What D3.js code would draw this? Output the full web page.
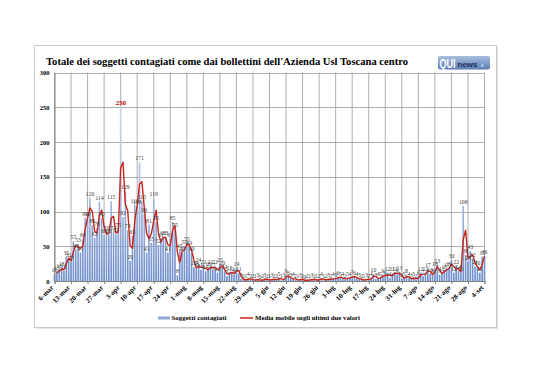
<!DOCTYPE html>
<html><head><meta charset="utf-8">
<script src="https://cdn.jsdelivr.net/npm/d3@7"></script>
<style>
html,body{margin:0;padding:0;background:#fff;}
svg{display:block;}
</style></head><body>
<svg id="c" width="538" height="380"></svg>
<script>
// ---- data ----
const title = "Totale dei soggetti contagiati come dai bollettini dell'Azienda Usl Toscana centro";
const startDate = new Date(2020, 2, 6);
const values = [
10,13,16,18,15,35,31,
27,57,45,53,41,60,91,
90,120,80,62,76,114,90,
66,70,66,115,71,67,75,
250,92,129,73,29,65,110,
108,171,115,96,41,81,55,
119,85,52,61,63,63,41,
61,85,75,8,45,40,50,
55,49,40,20,18,24,16,
22,14,18,21,17,21,12,
25,20,14,7,13,12,9,
19,11,3,2,1,4,2,
2,1,3,0,2,3,2,
1,3,2,2,5,1,3,
9,6,3,4,2,1,3,
2,0,2,1,3,2,1,
2,4,1,2,3,2,4,
3,6,5,4,2,5,4,
7,6,4,3,2,1,3,
2,4,10,3,4,5,9,
6,12,4,11,12,9,13,
3,5,8,4,3,5,2,
6,12,7,12,17,10,8,
18,23,9,12,15,17,19,
30,12,22,14,12,108,38,
28,43,32,21,20,12,35,
36
];
const tickLabels = ["6-mar","13-mar","20-mar","27-mar","3-apr","10-apr","17-apr","24-apr","1-mag","8-mag","15-mag","22-mag","29-mag","5-giu","12-giu","19-giu","26-giu","3-lug","10-lug","17-lug","24-lug","31-lug","7-ago","14-ago","21-ago","28-ago","4-set"];
const tickEvery = 7;
const yTicks = [0,50,100,150,200,250,300];
const seriesNames = ["Soggetti contagiati","Media mobile sugli ultimi due valori"];

// ---- derived ----
const categories = values.map((v,i)=>d3.timeDay.offset(startDate,i));
const movingAvg = values.map((v,i)=> i===0 ? null : (values[i-1]+v)/2);

const svg = d3.select("#c");
const serif = "'Liberation Serif','DejaVu Serif',serif";

// frame
svg.append("rect").attr("x",36).attr("y",47).attr("width",462).attr("height",282).attr("fill","#e6e6e6");
svg.append("rect").attr("x",34.5).attr("y",45.5).attr("width",462).attr("height",282)
  .attr("fill","#fff").attr("stroke","#c9c9c9").attr("stroke-width",1);

// title
svg.append("text").attr("x",46).attr("y",65).text(title)
  .attr("font-family",serif).attr("font-weight","bold").attr("font-size",9.8)
  .attr("textLength",362).attr("lengthAdjust","spacingAndGlyphs").attr("fill","#000");

// logo
const defs = svg.append("defs");
const lg = defs.append("linearGradient").attr("id","logoG").attr("x1",0).attr("y1",0).attr("x2",0).attr("y2",1);
lg.append("stop").attr("offset","0%").attr("stop-color","#a9bfdf");
lg.append("stop").attr("offset","100%").attr("stop-color","#5a7db5");
const logo = svg.append("g");
logo.append("rect").attr("x",438).attr("y",56).attr("width",52).attr("height",13.5).attr("rx",2).attr("fill","url(#logoG)");
logo.append("text").attr("x",439.5).attr("y",67.5).text("QUI").attr("font-family","'Liberation Sans',Arial,sans-serif")
  .attr("font-weight","bold").attr("font-size",12).attr("fill","#fff").attr("textLength",16).attr("lengthAdjust","spacingAndGlyphs");
logo.append("text").attr("x",457.5).attr("y",66.5).text("news").attr("font-family","'Liberation Sans',Arial,sans-serif")
  .attr("font-weight","bold").attr("font-size",7.5).attr("fill","#1d2f55").attr("textLength",20).attr("lengthAdjust","spacingAndGlyphs");
logo.append("text").attr("x",479).attr("y",66.5).text(".it").attr("font-family","'Liberation Sans',Arial,sans-serif")
  .attr("font-size",6).attr("fill","#d8e3f3");

// scales
const x = d3.scalePoint().domain(d3.range(values.length)).range([54.5,484.5]);
const y = d3.scaleLinear().domain([0,300]).range([281,72.5]);
const step = x.step();

// gridlines
const tickIdx = tickLabels.map((t,k)=>k*tickEvery);
svg.append("g").selectAll("line").data(yTicks).join("line")
  .attr("x1",54.5).attr("x2",484.5).attr("y1",d=>Math.round(y(d))+0.5).attr("y2",d=>Math.round(y(d))+0.5)
  .attr("stroke","#9a9a9a").attr("stroke-width",0.8);
svg.append("g").selectAll("line").data(tickIdx).join("line")
  .attr("x1",d=>x(d)).attr("x2",d=>x(d)).attr("y1",72.5).attr("y2",281)
  .attr("stroke","#9a9a9a").attr("stroke-width",0.8);

// bars
const bg = defs.append("linearGradient").attr("id","barG").attr("gradientUnits","userSpaceOnUse")
  .attr("x1",0).attr("y1",y(300)).attr("x2",0).attr("y2",y(0));
bg.append("stop").attr("offset","0%").attr("stop-color","#dfe6f2");
bg.append("stop").attr("offset","55%").attr("stop-color","#aebfe0");
bg.append("stop").attr("offset","100%").attr("stop-color","#6f8fcb");
const bw = step*0.7;
svg.append("g").selectAll("rect").data(values).join("rect")
  .attr("x",(d,i)=>x(i)-bw/2).attr("width",bw)
  .attr("y",d=>y(d)).attr("height",d=>y(0)-y(d))
  .attr("fill","url(#barG)");

// y axis
const yAxis = svg.append("g").attr("transform","translate(54.5,0)")
  .call(d3.axisLeft(y).tickValues(yTicks).tickSize(0).tickPadding(5));
yAxis.select(".domain").attr("stroke","#808080");
yAxis.selectAll("text").attr("font-family",serif).attr("font-weight","bold").attr("font-size",6.5).attr("fill","#000");

// x axis
const xAxis = svg.append("g").attr("transform","translate(0,281)")
  .call(d3.axisBottom(x).tickValues(tickIdx).tickFormat((d,k)=>tickLabels[k]).tickSize(3));
xAxis.select(".domain").attr("stroke","#808080");
xAxis.selectAll(".tick line").attr("stroke","#808080");
xAxis.selectAll("text").attr("font-family",serif).attr("font-weight","bold").attr("font-size",7).attr("fill","#000")
  .attr("text-anchor","end").attr("dy",0).attr("y",0)
  .attr("transform","translate(-1,7) rotate(-45)");

// moving average line
const line = d3.line().defined(d=>d!==null).x((d,i)=>x(i)).y(d=>y(d)).curve(d3.curveLinear);
svg.append("path").datum(movingAvg).attr("d",line)
  .attr("fill","none").attr("stroke","#c8241c").attr("stroke-width",1.4).attr("stroke-linejoin","round");

// data labels
const maxV = d3.max(values);
svg.append("g").selectAll("text").data(values).join("text")
  .attr("x",(d,i)=>x(i)).attr("y",d=>y(d)-2).attr("text-anchor","middle")
  .text(d=>d)
  .attr("font-family",serif)
  .attr("font-size",d=>d===maxV?7:5.8)
  .attr("font-weight",d=>d===maxV?"bold":"normal")
  .attr("fill",d=>d===maxV?"#c00000":"#404040");

// legend
const leg = svg.append("g");
leg.append("rect").attr("x",158).attr("y",316.5).attr("width",12).attr("height",3).attr("fill","#8fa9d8");
leg.append("text").attr("x",171.5).attr("y",320).text(seriesNames[0]).attr("font-family",serif).attr("font-weight","bold")
  .attr("font-size",6.8).attr("textLength",55).attr("lengthAdjust","spacingAndGlyphs");
leg.append("line").attr("x1",240).attr("x2",253).attr("y1",318).attr("y2",318).attr("stroke","#c8241c").attr("stroke-width",1.5);
leg.append("text").attr("x",255).attr("y",320).text(seriesNames[1]).attr("font-family",serif).attr("font-weight","bold")
  .attr("font-size",6.8).attr("textLength",105).attr("lengthAdjust","spacingAndGlyphs");
</script>
</body></html>
